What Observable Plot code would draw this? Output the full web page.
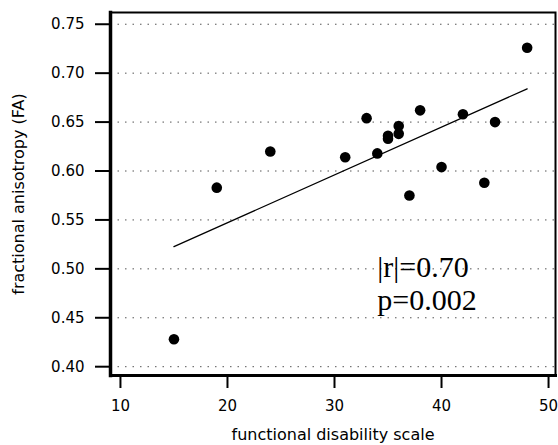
<!DOCTYPE html>
<html>
<head>
<meta charset="utf-8">
<script src="https://cdn.jsdelivr.net/npm/d3@7"></script>
<script src="https://cdn.jsdelivr.net/npm/@observablehq/plot@0.6"></script>
<style>
  html, body { margin: 0; padding: 0; background: #fff; }
  svg { display: block; }
</style>
</head>
<body>
<div id="chart"></div>
<script>
const disability = [15, 19, 24, 31, 33, 34, 35, 35, 36, 36, 37, 38, 40, 42, 44, 45, 48];
const fa = [0.428, 0.583, 0.620, 0.614, 0.654, 0.618, 0.633, 0.636, 0.638, 0.646, 0.575, 0.662, 0.604, 0.658, 0.588, 0.650, 0.726];
const xTicks = [10, 20, 30, 40, 50];
const yTicks = [0.40, 0.45, 0.50, 0.55, 0.60, 0.65, 0.70, 0.75];
const statLabels = ["|r|=0.70", "p=0.002"];
const statX = [34.0, 34.0];
const statY = [0.502, 0.468];

const points = disability.map((x, i) => ({x, y: fa[i]}));
const stats = statLabels.map((t, i) => ({t, x: statX[i], y: statY[i]}));

const font = "'DejaVu Sans', Verdana, sans-serif";

const chart = Plot.plot({
  width: 558,
  height: 445,
  marginLeft: 110,
  marginRight: 3,
  marginTop: 12,
  marginBottom: 70,
  style: {fontFamily: font, fontSize: "15px", color: "#000", background: "#fff"},
  x: {domain: [9.07, 50.65]},
  y: {domain: [0.391, 0.762]},
  marks: [
    Plot.ruleY(yTicks, {stroke: "#555", strokeWidth: 1, strokeDasharray: "1.5 6"}),
    Plot.frame({stroke: "#000", strokeWidth: 2}),
    Plot.frame({anchor: "left", stroke: "#000", strokeWidth: 3.5}),
    Plot.frame({anchor: "bottom", stroke: "#000", strokeWidth: 3}),
    Plot.axisY(yTicks, {
      tickSize: 15, tickPadding: 11, strokeWidth: 2, stroke: "#000", fill: "#000", fontSize: 15,
      tickFormat: d3.format(".2f"), label: null
    }),
    Plot.axisY({
      ticks: [], tickSize: 0,
      label: "fractional anisotropy (FA)", labelAnchor: "center", labelArrow: "none",
      labelOffset: 98, fontSize: 16, fill: "#000"
    }),
    Plot.axisX(xTicks, {
      tickSize: 13, tickPadding: 12, strokeWidth: 2, stroke: "#000", fill: "#000", fontSize: 15,
      label: null
    }),
    Plot.axisX({
      ticks: [], tickSize: 0,
      label: "functional disability scale", labelAnchor: "center", labelArrow: "none",
      labelOffset: 64, fontSize: 16, fill: "#000"
    }),
    Plot.linearRegressionY(points, {x: "x", y: "y", ci: 0, stroke: "#000", strokeWidth: 1.3}),
    Plot.dot(points, {x: "x", y: "y", r: 5.3, fill: "#000", stroke: "none"}),
    Plot.text(stats, {x: "x", y: "y", text: "t", textAnchor: "start", fontSize: 30,
      fontFamily: "'Liberation Serif', 'Times New Roman', serif", fill: "#000"})
  ]
});
document.getElementById("chart").appendChild(chart);
</script>
</body>
</html>
